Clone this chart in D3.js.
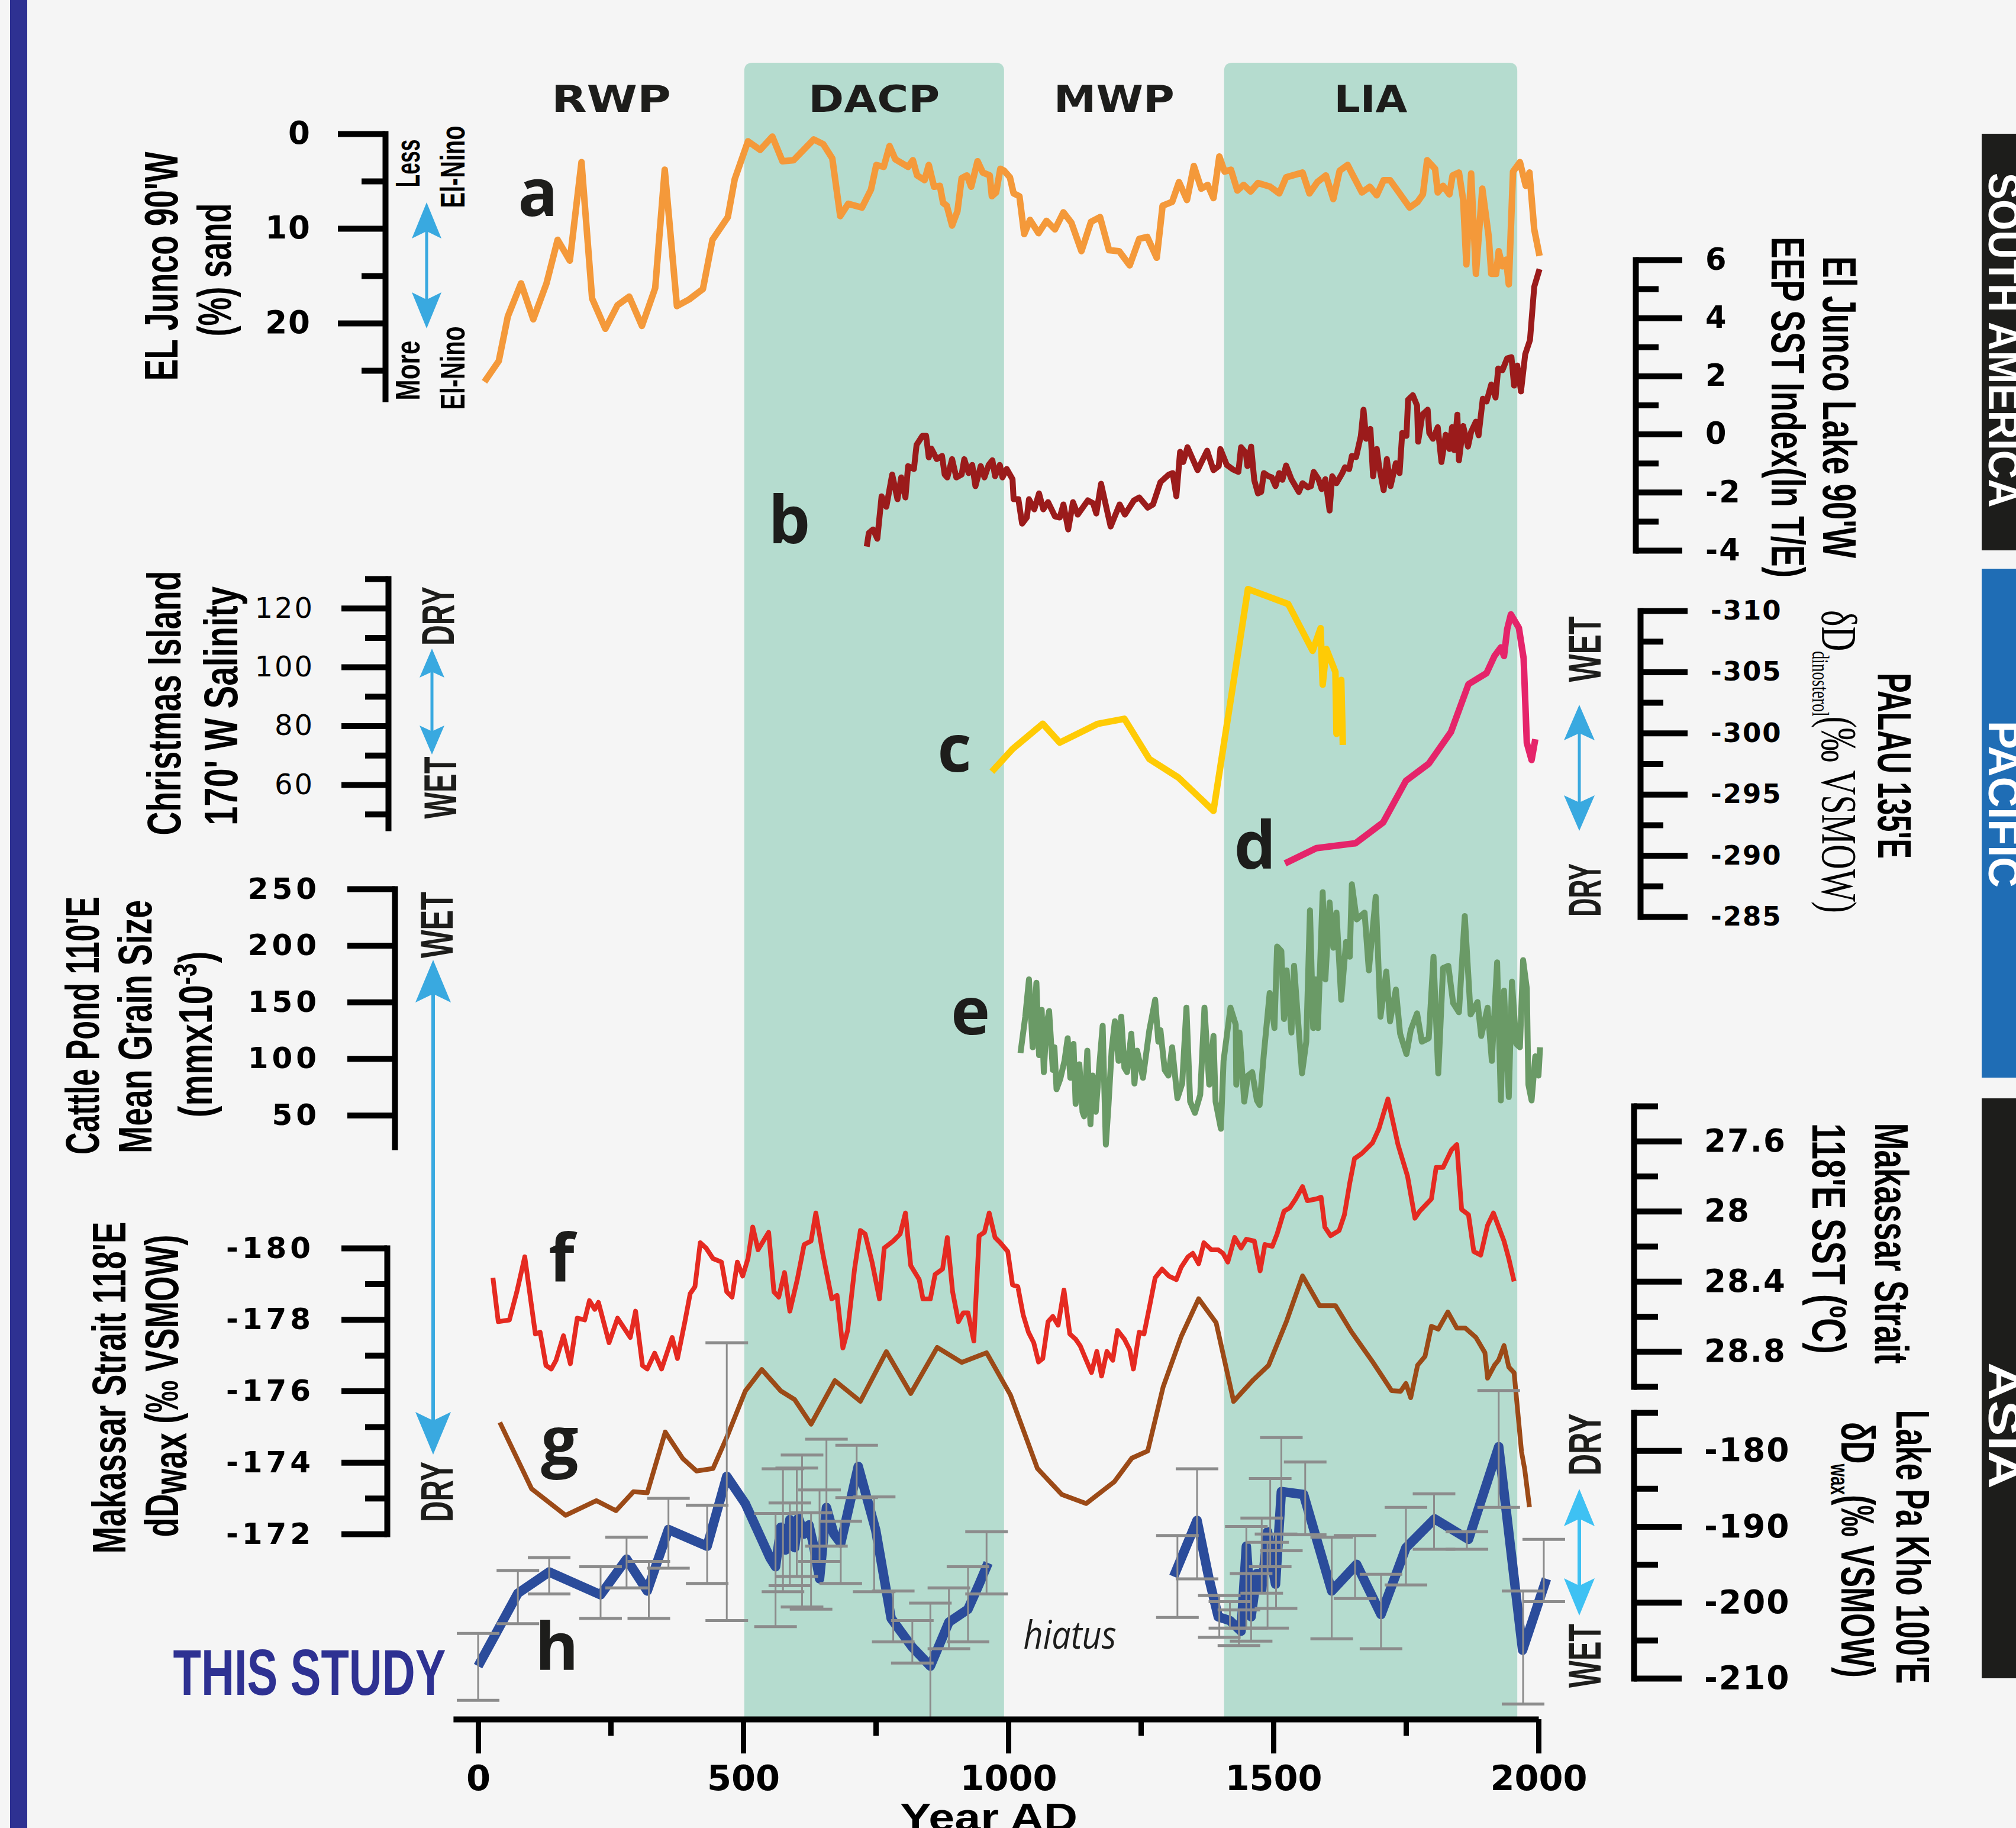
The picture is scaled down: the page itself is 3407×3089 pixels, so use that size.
<!DOCTYPE html>
<html>
<head>
<meta charset="utf-8">
<script src="https://cdn.jsdelivr.net/npm/d3@7"></script>
<style>
body { margin: 0; background: #f5f5f5; }
svg { display: block; }
</style>
</head>
<body>
<div id="chart"></div>
<script>
// ---- data (year AD, value) ----
const periods = [
  { name: 'RWP', start: 0, end: 502, shaded: false },
  { name: 'DACP', start: 502, end: 992, shaded: true },
  { name: 'MWP', start: 992, end: 1407, shaded: false },
  { name: 'LIA', start: 1407, end: 1960, shaded: true }
]
const xMajorTicks = [0, 500, 1000, 1500, 2000]
const xMinorTicks = [250, 750, 1250, 1750]

// a: El Junco (%) sand
const junco = [[12,26.2],[39,24.0],[56,19.3],[81,15.8],[104,19.6],[129,15.8],[150,11.2],[173,13.4],[195,3.0],[215,17.4],[240,20.6],[263,18.1],[285,17.2],[309,20.3],[334,16.3],[352,3.8],[375,18.2],[398,17.5],[424,16.4],[442,11.2],[471,8.8],[484,4.8],[509,0.8],[532,1.7],[555,0.3],[574,2.9],[595,2.8],[633,0.6],[651,1.1],[668,2.6],[683,8.7],[698,7.4],[724,7.8],[741,5.9],[751,3.3],[765,3.5],[776,1.3],[787,2.7],[811,3.5],[820,2.8],[828,4.4],[842,4.9],[850,3.3],[860,5.6],[871,5.5],[877,7.3],[884,7.6],[894,9.7],[904,8.2],[912,4.7],[922,4.4],[930,5.6],[942,2.9],[952,4.1],[965,4.4],[969,6.6],[977,6.2],[985,3.7],[992,3.9],[1003,4.6],[1010,6.3],[1021,6.6],[1030,10.6],[1041,9.1],[1057,10.5],[1072,9.2],[1088,10.1],[1104,8.3],[1119,9.4],[1138,12.4],[1156,9.3],[1173,8.8],[1190,12.3],[1209,12.4],[1229,13.9],[1247,11.1],[1262,10.9],[1280,13.1],[1291,7.6],[1309,7.2],[1322,5.1],[1337,7.0],[1350,3.4],[1364,5.8],[1376,5.4],[1387,6.8],[1398,2.4],[1408,4.0],[1420,3.8],[1432,6.0],[1444,5.4],[1457,6.1],[1471,5.2],[1494,5.6],[1511,6.3],[1524,4.6],[1555,4.1],[1568,6.3],[1583,5.1],[1599,4.4],[1613,6.9],[1625,3.9],[1640,3.3],[1652,4.6],[1667,6.2],[1682,5.6],[1695,6.5],[1708,4.9],[1720,4.9],[1738,6.3],[1757,7.8],[1772,7.2],[1782,6.4],[1790,2.8],[1805,3.7],[1810,6.2],[1820,5.5],[1832,6.4],[1838,4.4],[1850,4.1],[1858,7.0],[1864,13.8],[1873,4.2],[1882,14.8],[1894,5.8],[1906,10.8],[1911,14.8],[1920,14.8],[1925,12.4],[1932,14.0],[1939,13.3],[1944,15.9],[1952,4.0],[1965,3.0],[1976,5.5],[1983,4.1],[1992,10.1],[2002,12.9]]

// b: El Junco EEP SST index
const eepSst = [[733,-3.87],[737,-3.4],[745,-3.28],[753,-3.6],[761,-2.14],[770,-2.5],[781,-1.39],[791,-2.24],[798,-1.49],[806,-2.18],[811,-1.1],[822,-1.2],[827,-0.37],[838,-0.06],[845,-0.06],[850,-0.8],[855,-0.5],[865,-0.86],[875,-0.75],[880,-1.39],[885,-1.49],[894,-0.86],[902,-1.49],[912,-1.39],[917,-0.86],[925,-1.34],[932,-1.06],[938,-1.79],[948,-1.1],[955,-1.49],[963,-1.06],[970,-0.9],[975,-1.45],[984,-1.06],[989,-1.49],[997,-1.2],[1008,-1.55],[1010,-2.24],[1019,-2.24],[1026,-3.08],[1035,-2.87],[1039,-2.24],[1049,-2.59],[1058,-2.04],[1066,-2.59],[1075,-2.34],[1088,-2.83],[1097,-2.87],[1104,-2.42],[1113,-3.28],[1122,-2.34],[1131,-2.77],[1150,-2.28],[1160,-2.38],[1166,-2.73],[1175,-1.71],[1193,-3.18],[1210,-2.42],[1220,-2.77],[1237,-2.28],[1247,-2.18],[1263,-2.53],[1273,-2.42],[1287,-1.65],[1303,-1.39],[1310,-1.34],[1317,-2.14],[1324,-0.61],[1330,-0.96],[1338,-0.45],[1357,-1.24],[1375,-0.57],[1387,-1.24],[1397,-1.1],[1400,-0.51],[1412,-1.06],[1424,-1.22],[1434,-1.3],[1439,-0.45],[1448,-0.65],[1451,-1.1],[1458,-0.43],[1464,-1.59],[1471,-2.04],[1477,-1.99],[1482,-1.34],[1491,-1.45],[1497,-1.49],[1504,-1.79],[1511,-1.34],[1517,-1.57],[1524,-1.08],[1534,-1.55],[1548,-1.99],[1555,-1.69],[1565,-1.83],[1571,-1.79],[1576,-1.3],[1585,-1.55],[1591,-1.89],[1598,-1.55],[1606,-2.63],[1611,-1.45],[1619,-1.69],[1630,-1.34],[1635,-1.14],[1643,-1.2],[1648,-0.75],[1656,-0.79],[1665,-0.06],[1670,0.84],[1675,-0.16],[1683,0.18],[1688,-1.45],[1695,-0.51],[1699,-1.06],[1708,-1.93],[1714,-0.86],[1721,-1.79],[1731,-1.0],[1738,-1.34],[1743,0.04],[1751,-0.06],[1754,1.18],[1763,1.34],[1771,0.98],[1773,-0.26],[1781,0.67],[1791,0.84],[1794,0.04],[1801,-0.16],[1810,0.24],[1817,-0.96],[1825,-0.02],[1832,-0.51],[1837,0.24],[1841,-0.55],[1847,0.67],[1850,-0.9],[1858,0.28],[1867,-0.43],[1873,0.08],[1882,0.43],[1887,-0.04],[1895,1.22],[1902,1.12],[1911,1.71],[1919,1.26],[1924,2.26],[1932,2.2],[1941,2.61],[1949,2.65],[1954,1.67],[1960,2.36],[1967,1.47],[1975,2.75],[1984,3.24],[1992,5.07],[2002,5.68]]

// c: Christmas Island salinity
const christmas = [[969,64.4],[1008,72.1],[1065,80.7],[1097,74.3],[1169,80.7],[1219,82.4],[1266,68.7],[1321,62.4],[1387,51.1],[1452,126.5],[1528,121.4],[1574,105.5],[1589,113.2],[1593,94.0],[1600,106.1],[1617,98.3],[1619,77.3],[1628,95.6],[1631,73.5]]

// d: Palau dD dinosterol
const palau = [[1522,-289.35],[1581,-290.6],[1655,-291.0],[1707,-292.7],[1750,-296.1],[1793,-297.5],[1835,-300.1],[1868,-304.0],[1902,-304.9],[1917,-306.3],[1929,-307.0],[1935,-306.3],[1941,-308.5],[1948,-309.7],[1963,-308.6],[1972,-306.1],[1978,-299.2],[1987,-297.8],[1994,-299.5]]

// e: Cattle Pond mean grain size
const cattle = [[1023,105],[1032,137],[1039,170],[1046,110],[1053,167],[1058,103],[1063,143],[1067,88],[1072,130],[1077,142],[1084,90],[1087,110],[1091,73],[1098,82],[1106,98],[1112,118],[1117,83],[1123,113],[1127,60],[1134,95],[1140,53],[1143,49],[1149,107],[1155,42],[1159,85],[1165,53],[1171,90],[1178,129],[1184,24],[1189,59],[1195,108],[1201,133],[1208,98],[1213,137],[1219,92],[1224,88],[1232,122],[1238,78],[1243,107],[1254,83],[1266,125],[1277,152],[1283,115],[1287,125],[1295,90],[1302,85],[1309,110],[1319,65],[1328,78],[1336,145],[1343,62],[1352,52],[1362,68],[1370,145],[1379,77],[1387,120],[1391,62],[1401,38],[1406,98],[1419,145],[1429,130],[1430,77],[1436,123],[1445,62],[1452,85],[1460,88],[1469,63],[1474,59],[1482,104],[1493,158],[1502,127],[1507,199],[1515,195],[1520,135],[1525,178],[1534,123],[1539,182],[1545,143],[1554,87],[1562,115],[1569,231],[1575,127],[1580,170],[1584,127],[1593,247],[1598,170],[1606,238],[1613,198],[1619,229],[1628,152],[1637,203],[1644,190],[1648,254],[1657,223],[1672,229],[1680,178],[1693,243],[1702,137],[1713,177],[1720,133],[1731,161],[1739,122],[1751,104],[1759,125],[1771,140],[1780,115],[1793,118],[1802,190],[1811,87],[1820,180],[1830,182],[1839,149],[1850,141],[1861,226],[1872,139],[1885,150],[1892,120],[1904,145],[1912,98],[1922,185],[1929,63],[1935,160],[1944,66],[1950,168],[1958,113],[1965,110],[1971,187],[1978,162],[1981,77],[1987,63],[1994,102],[2000,85],[2003,110]]

// f: Makassar Strait SST
const makassarSst = [[28,28.38],[38,28.63],[59,28.62],[73,28.46],[88,28.26],[108,28.70],[117,28.69],[128,28.88],[138,28.90],[147,28.85],[161,28.71],[174,28.87],[187,28.61],[201,28.62],[210,28.51],[220,28.56],[227,28.52],[247,28.75],[263,28.61],[287,28.72],[297,28.57],[310,28.88],[319,28.90],[333,28.81],[346,28.90],[366,28.72],[376,28.84],[390,28.63],[400,28.47],[409,28.43],[419,28.18],[430,28.21],[443,28.27],[459,28.29],[469,28.46],[479,28.49],[489,28.29],[499,28.37],[509,28.27],[518,28.09],[528,28.22],[538,28.17],[548,28.12],[558,28.46],[567,28.49],[578,28.35],[588,28.57],[602,28.39],[615,28.19],[628,28.17],[637,28.01],[650,28.24],[667,28.50],[677,28.48],[688,28.78],[697,28.68],[710,28.33],[721,28.11],[730,28.13],[743,28.29],[757,28.50],[766,28.21],[783,28.17],[796,28.13],[806,28.01],[816,28.31],[832,28.39],[839,28.50],[853,28.50],[862,28.36],[876,28.33],[885,28.15],[895,28.46],[906,28.63],[915,28.58],[924,28.58],[935,28.74],[945,28.14],[955,28.12],[964,28.01],[975,28.15],[985,28.18],[999,28.23],[1008,28.42],[1018,28.43],[1028,28.59],[1038,28.69],[1048,28.75],[1057,28.86],[1065,28.84],[1075,28.63],[1084,28.60],[1094,28.65],[1105,28.45],[1116,28.70],[1127,28.73],[1136,28.77],[1147,28.85],[1157,28.92],[1167,28.80],[1176,28.94],[1186,28.80],[1197,28.85],[1206,28.68],[1219,28.73],[1229,28.79],[1236,28.90],[1247,28.69],[1256,28.70],[1266,28.55],[1277,28.38],[1290,28.33],[1303,28.37],[1317,28.39],[1326,28.32],[1339,28.26],[1348,28.24],[1359,28.30],[1369,28.18],[1383,28.22],[1396,28.22],[1405,28.24],[1414,28.29],[1427,28.15],[1439,28.21],[1449,28.16],[1464,28.17],[1475,28.34],[1484,28.19],[1498,28.20],[1507,28.13],[1520,28.00],[1531,27.98],[1542,27.93],[1555,27.86],[1564,27.94],[1581,27.93],[1590,27.92],[1597,28.09],[1608,28.14],[1624,28.11],[1634,28.02],[1644,27.84],[1653,27.70],[1667,27.67],[1687,27.61],[1699,27.53],[1716,27.36],[1735,27.62],[1740,27.67],[1753,27.80],[1767,28.04],[1776,28.00],[1798,27.93],[1807,27.75],[1820,27.75],[1836,27.65],[1846,27.62],[1855,27.99],[1868,28.02],[1878,28.23],[1891,28.25],[1904,28.08],[1915,28.01],[1935,28.17],[1944,28.27],[1954,28.40]]

// g: Makassar Strait dDwax
const makassarWax = [[41,-175.12],[101,-173.26],[165,-172.52],[223,-172.93],[260,-172.65],[293,-173.18],[319,-173.15],[353,-174.85],[386,-174.11],[412,-173.76],[443,-173.83],[469,-174.70],[504,-176.0],[535,-176.6],[571,-176.0],[597,-175.76],[628,-175.07],[673,-176.29],[721,-175.71],[770,-177.10],[816,-175.93],[866,-177.22],[912,-176.8],[959,-177.07],[1004,-175.89],[1055,-173.83],[1101,-173.10],[1147,-172.85],[1200,-173.46],[1233,-174.12],[1263,-174.32],[1292,-176.11],[1326,-177.52],[1359,-178.58],[1392,-177.91],[1425,-175.71],[1462,-176.31],[1491,-176.72],[1525,-177.96],[1555,-179.22],[1587,-178.39],[1617,-178.39],[1647,-177.66],[1687,-176.82],[1723,-176.01],[1740,-175.99],[1750,-176.21],[1759,-175.81],[1772,-176.72],[1786,-176.97],[1798,-177.81],[1811,-177.73],[1829,-178.21],[1846,-177.76],[1862,-177.76],[1882,-177.5],[1899,-177.07],[1904,-176.36],[1917,-176.72],[1925,-176.87],[1935,-177.27],[1944,-176.67],[1954,-176.51],[1968,-174.30],[1974,-173.81],[1983,-172.75]]

// h: Lake Pa Kho dDwax (this study), two segments around the hiatus
const pakhoEarly = [[0,-208.4],[75,-198.8],[134,-196.0],[231,-199.0],[280,-194.3],[319,-198.5],[359,-190.4],[432,-192.6],[469,-183.4],[504,-187.0],[551,-194.2],[561,-195.3],[571,-190.1],[580,-193.1],[588,-189.1],[597,-192.8],[604,-188.9],[615,-191.0],[624,-189.8],[633,-192.6],[644,-196.9],[657,-187.5],[671,-191.0],[684,-192.2],[717,-182.1],[750,-190.5],[779,-202.1],[819,-205.9],[853,-208.4],[888,-202.6],[924,-200.9],[945,-197.6],[962,-194.8]]
const pakhoLate = [[1312,-196.6],[1356,-189.2],[1378,-196.7],[1396,-201.9],[1418,-202.4],[1439,-203.8],[1449,-192.6],[1458,-201.9],[1469,-196.2],[1478,-198.3],[1489,-190.7],[1498,-195.3],[1504,-197.6],[1515,-185.4],[1557,-185.8],[1610,-198.5],[1657,-195.0],[1703,-201.6],[1750,-192.8],[1804,-189.0],[1868,-191.7],[1925,-179.5],[1970,-206.3],[2015,-196.9]]
// error bars: year, low, high
const pakhoErr = [[0,-212.9,-204.1],[75,-202.8,-195.8],[134,-198.9,-194.1],[231,-202.1,-195.3],[280,-198.1,-191.4],[322,-202.1,-194.6],[359,-195.5,-186.3],[432,-197.5,-187.2],[469,-202.4,-165.8],[561,-203.2,-188.3],[575,-198.6,-182.4],[588,-197.8,-186.9],[601,-196.6,-182.3],[611,-200.6,-180.6],[628,-200.9,-188.2],[644,-194.6,-185.2],[657,-192.6,-178.5],[684,-197.5,-189.3],[714,-186.2,-179.3],[747,-198.6,-186.1],[783,-205.2,-198.5],[819,-208.0,-202.4],[853,-215.5,-200.1],[888,-206.1,-198.1],[924,-205.2,-195.3],[959,-198.9,-190.7],[1319,-202.0,-191.2],[1356,-196.9,-182.4],[1398,-204.6,-199.1],[1418,-203.4,-199.9],[1435,-205.7,-201.0],[1449,-203.4,-190.0],[1458,-205.1,-196.2],[1478,-198.8,-188.9],[1489,-203.4,-192.1],[1494,-195.3,-183.7],[1505,-200.8,-191.0],[1515,-193.2,-178.3],[1560,-191.1,-181.5],[1610,-204.8,-191.4],[1654,-199.5,-191.2],[1703,-206.1,-196.3],[1750,-197.7,-187.5],[1803,-193.0,-185.7],[1865,-193.0,-190.7],[1925,-187.5,-172.1],[1971,-213.4,-198.5],[2010,-199.9,-191.7]]

// ---- layout ----
const W = 3407, H = 3089
const COND = "'Liberation Sans Narrow','Liberation Sans',Arial,sans-serif"
const WIDE = "'DejaVu Sans',Verdana,sans-serif"
const HUM = "'Open Sans','Noto Sans',sans-serif"
const SERIF = "'Liberation Serif','DejaVu Serif',serif"
const ARROW = '#39a9e0'

const svg = d3.select('#chart').append('svg').attr('width', W).attr('height', H)
svg.append('rect').attr('width', W).attr('height', H).attr('fill', '#f5f5f5')
svg.append('rect').attr('x', 17).attr('y', 0).attr('width', 29).attr('height', H).attr('fill', '#2e3192')

const x = d3.scaleLinear().domain([0, 2000]).range([808, 2600])
const yA = d3.scaleLinear().domain([0, 28]).range([226, 674])
const yB = d3.scaleLinear().domain([-4, 6]).range([930, 439])
const yC = d3.scaleLinear().domain([45.3, 130]).range([1399, 978])
const yD = d3.scaleLinear().domain([-310, -285]).range([1032, 1549])
const yE = d3.scaleLinear().domain([22, 250]).range([1938, 1502])
const yF = d3.scaleLinear().domain([27.4, 29.0]).range([1869, 2343])
const yG = d3.scaleLinear().domain([-180, -172]).range([2109, 2592])
const yH = d3.scaleLinear().domain([-175, -210]).range([2387, 2836])

// shaded periods with rounded tops
const bandTop = 106, bandBottom = 2905, r = 14
svg.append('g').selectAll('path').data(periods.filter(p => p.shaded)).join('path')
  .attr('fill', '#b5dccf')
  .attr('d', p => {
    const x0 = x(p.start), x1 = x(p.end)
    return `M${x0},${bandBottom}V${bandTop + r}Q${x0},${bandTop} ${x0 + r},${bandTop}H${x1 - r}Q${x1},${bandTop} ${x1},${bandTop + r}V${bandBottom}Z`
  })

// text helper: (x0,y0) is the baseline point, text centred there, stretched to len
function label(x0, y0, angle, len, parts, st) {
  const g = svg.append('g').attr('transform', `translate(${x0},${y0}) rotate(${angle})`)
  const t = g.append('text').attr('text-anchor', 'middle')
    .attr('font-family', st.family || COND)
    .attr('font-weight', st.weight || 'bold')
    .attr('font-style', st.style || 'normal')
    .attr('font-size', st.size)
    .attr('fill', st.fill || '#000')
  parts.forEach(p => {
    if (typeof p === 'string') p = { t: p }
    const s = t.append('tspan').text(p.t)
    if (p.size) s.attr('font-size', p.size)
    if (p.dy) s.attr('dy', p.dy)
  })
  if (len) {
    const L = t.node().getComputedTextLength()
    if (L > 0) t.attr('transform', `scale(${len / L},1)`)
  }
  return t
}

const periodLen = { RWP: 202, DACP: 222, MWP: 204, LIA: 124 }
periods.forEach(p => {
  label(x((p.start + p.end) / 2), 189, 0, periodLen[p.name], [p.name], { size: 62, family: WIDE, fill: '#1d1d1b' })
})

// ---- series ----
function series(data, y, color, width) {
  svg.append('path').datum(data)
    .attr('fill', 'none').attr('stroke', color).attr('stroke-width', width)
    .attr('stroke-linejoin', 'round')
    .attr('d', d3.line().x(d => x(d[0])).y(d => y(d[1])))
}
series(junco, yA, '#f4993a', 11)
series(eepSst, yB, '#9b1b1b', 10)
series(christmas, yC, '#ffcb05', 11)
series(palau, yD, '#e5246a', 11)
series(cattle, yE, '#6a9a66', 10)
series(makassarSst, yF, '#e52a21', 8)
series(makassarWax, yG, '#9c4a17', 8)
series(pakhoEarly, yH, '#2b4c9b', 16)
series(pakhoLate, yH, '#2b4c9b', 16)

const eb = svg.append('g').attr('stroke', '#8c8c8c')
eb.selectAll('line.v').data(pakhoErr).join('line').attr('class', 'v')
  .attr('x1', d => x(d[0])).attr('x2', d => x(d[0]))
  .attr('y1', d => yH(d[1])).attr('y2', d => yH(d[2])).attr('stroke-width', 3)
eb.selectAll('line.lo').data(pakhoErr).join('line').attr('class', 'lo')
  .attr('x1', d => x(d[0]) - 36).attr('x2', d => x(d[0]) + 36)
  .attr('y1', d => yH(d[1])).attr('y2', d => yH(d[1])).attr('stroke-width', 5)
eb.selectAll('line.hi').data(pakhoErr).join('line').attr('class', 'hi')
  .attr('x1', d => x(d[0]) - 36).attr('x2', d => x(d[0]) + 36)
  .attr('y1', d => yH(d[2])).attr('y2', d => yH(d[2])).attr('stroke-width', 5)

// ---- axes ----
function yAxis(scale, xPos, side, major, minor, majorLen, minorLen, pad, font) {
  const make = side === 'left' ? d3.axisLeft : d3.axisRight
  const g = svg.append('g').attr('transform', `translate(${xPos},0)`)
  if (minor.length) {
    g.append('g').call(make(scale).tickValues(minor).tickSize(minorLen).tickSizeOuter(0).tickFormat(''))
      .call(s => s.select('.domain').remove())
  }
  const gm = g.append('g').call(make(scale).tickValues(major).tickSize(majorLen).tickSizeOuter(0)
    .tickPadding(pad).tickFormat(d => String(d)))
  g.selectAll('.tick line').attr('stroke', '#000').attr('stroke-width', 10)
  gm.select('.domain').attr('stroke', '#000').attr('stroke-width', 10).attr('stroke-linecap', 'square')
  gm.selectAll('text').attr('font-family', font.family).attr('font-weight', font.weight)
    .attr('font-size', font.size).attr('fill', '#000').attr('letter-spacing', font.ls || 0)
}
const bold = s => ({ family: WIDE, weight: 'bold', size: s, ls: 2 })
yAxis(yA, 651, 'left', [0, 10, 20], [5, 15, 25], 80, 40, 45, bold(53))
yAxis(yB, 2764, 'right', [-4, -2, 0, 2, 4, 6], [-3, -1, 1, 3, 5], 79, 39, 39, bold(51))
yAxis(yC, 656, 'left', [60, 80, 100, 120], [50, 70, 90, 110, 130], 79, 39, 46, { family: WIDE, weight: 'normal', size: 48, ls: 3 })
yAxis(yD, 2772, 'right', [-310, -305, -300, -295, -290, -285], [-307.5, -302.5, -297.5, -292.5, -287.5], 80, 39, 39, bold(45))
yAxis(yE, 667, 'left', [50, 100, 150, 200, 250], [], 80, 0, 46, { family: WIDE, weight: 'bold', size: 50, ls: 6 })
yAxis(yF, 2761, 'right', [27.6, 28, 28.4, 28.8], [27.4, 27.8, 28.2, 28.6, 29.0], 81, 41, 38, bold(53))
yAxis(yG, 654, 'left', [-180, -178, -176, -174, -172], [-179, -177, -175, -173], 77, 37, 46, { family: WIDE, weight: 'bold', size: 50, ls: 6 })
yAxis(yH, 2761, 'right', [-180, -190, -200, -210], [-175, -185, -195, -205], 81, 41, 38, bold(55))

// x axis
const xAxisScale = x.copy().domain([-47, 2000]).range([x(-47), x(2000)])
const gx = svg.append('g').attr('transform', 'translate(0,2905)')
gx.append('g').call(d3.axisBottom(xAxisScale).tickValues(xMinorTicks).tickSize(28).tickSizeOuter(0).tickFormat(''))
  .call(s => s.select('.domain').remove())
const gxm = gx.append('g').call(d3.axisBottom(xAxisScale).tickValues(xMajorTicks).tickSize(58).tickSizeOuter(0).tickPadding(20).tickFormat(d => String(d)))
gx.selectAll('.tick line').attr('stroke', '#000').attr('stroke-width', 9)
gxm.select('.domain').attr('stroke', '#000').attr('stroke-width', 10)
gxm.selectAll('text').attr('font-family', WIDE).attr('font-weight', 'bold').attr('font-size', 59).attr('fill', '#000')
label(1671, 3093, 0, 300, ['Year AD'], { size: 64 })

// ---- arrows ----
function dblArrow(xc, y1, y2, hl, hw, color, lw) {
  const g = svg.append('g').attr('fill', color)
  g.append('line').attr('x1', xc).attr('x2', xc).attr('y1', y1 + hl * 0.7).attr('y2', y2 - hl * 0.7)
    .attr('stroke', color).attr('stroke-width', lw)
  g.append('path').attr('d', `M${xc},${y1}L${xc + hw},${y1 + hl}L${xc},${y1 + hl * 0.8}L${xc - hw},${y1 + hl}Z`)
  g.append('path').attr('d', `M${xc},${y2}L${xc + hw},${y2 - hl}L${xc},${y2 - hl * 0.8}L${xc - hw},${y2 - hl}Z`)
}
dblArrow(721, 342, 555, 61, 25, ARROW, 5)
dblArrow(730, 1096, 1275, 49, 21, ARROW, 5)
dblArrow(732, 1622, 2458, 72, 30, ARROW, 6)
dblArrow(2669, 1191, 1404, 60, 26, ARROW, 5)
dblArrow(2669, 2516, 2730, 63, 26, '#3ec1f3', 6)

// ---- axis titles ----
const T = 80
label(300, 450, -90, 387, ["EL Junco 90'W"], { size: T })
label(390, 456, -90, 225, ['(%) sand'], { size: T })
label(305, 1188, -90, 447, ['Christmas Island'], { size: T })
label(401, 1193, -90, 404, ["170' W  Salinity"], { size: T })
label(167, 1733, -90, 436, ["Cattle Pond 110'E"], { size: T })
label(256, 1735, -90, 428, ['Mean Grain Size'], { size: T })
label(358, 1748, -90, 281, ['(mmx10', { t: '-3', size: 56, dy: -26 }, { t: ')', dy: 26 }], { size: T })
label(212, 2345, -90, 561, ["Makassar Strait 118'E"], { size: T })
label(301, 2342, -90, 511, ['dD', { t: 'wax', dy: 14 }, { t: ' (‰ VSMOW)', dy: -14 }], { size: T })

label(3081, 688, 90, 510, ["El Junco Lake 90'W"], { size: T })
label(2994, 688, 90, 576, ['EEP SST Index(ln T/E)'], { size: T })
label(3174, 1294, 90, 314, ["PALAU 135'E"], { size: T })
label(3079, 1287, 90, 512, ['δD', { t: 'dinosterol', size: 40, dy: 16 }, { t: '(‰ VSMOW)', dy: -16 }], { size: 84, family: SERIF, weight: 'normal' })
label(3169, 2101, 90, 407, ['Makassar Strait'], { size: T })
label(3063, 2093, 90, 390, ["118'E SST (ºC)"], { size: T })
label(3205, 2614, 90, 463, ["Lake Pa Kho 100'E"], { size: T })
label(3112, 2619, 90, 432, ['δD', { t: 'wax', size: 42, dy: 18 }, { t: '(‰ VSMOW)', dy: -18 }], { size: T })

// El-Nino, wet/dry annotations
label(709, 276, -90, 81, ['Less'], { size: 58 })
label(785, 282, -90, 139, ['El-Nino'], { size: 58 })
label(709, 626, -90, 101, ['More'], { size: 58 })
label(785, 622, -90, 141, ['El-Nino'], { size: 58 })
const wd = { size: 78, fill: '#1d1d1b' }
label(767, 1041, -90, 100, ['DRY'], wd)
label(771, 1331, -90, 105, ['WET'], wd)
label(765, 1563, -90, 112, ['WET'], wd)
label(765, 2521, -90, 102, ['DRY'], wd)
label(2705, 1097, -90, 111, ['WET'], wd)
label(2705, 1504, -90, 90, ['DRY'], wd)
label(2705, 2441, -90, 105, ['DRY'], wd)
label(2705, 2798, -90, 108, ['WET'], wd)

// region tabs (label centre given separately, it is not the tab centre)
const regions = [
  { name: 'SOUTH AMERICA', y0: 226, y1: 930, fill: '#1d1d1b', len: 566, cy: 575 },
  { name: 'PACIFIC', y0: 961, y1: 1821, fill: '#1f6db5', len: 282, cy: 1359 },
  { name: 'ASIA', y0: 1856, y1: 2836, fill: '#1d1d1b', len: 214, cy: 2409 }
]
regions.forEach(rg => {
  svg.append('rect').attr('x', 3349).attr('y', rg.y0).attr('width', 60).attr('height', rg.y1 - rg.y0).attr('fill', rg.fill)
  label(3361, rg.cy, 90, rg.len, [rg.name], { size: 74, fill: '#fff' })
})

// panel letters
const letters = [['a', 909, 365], ['b', 1334, 918], ['c', 1613, 1304], ['d', 2121, 1468], ['e', 1640, 1748], ['f', 949, 2165], ['g', 946, 2474], ['h', 941, 2822]]
svg.append('g').selectAll('text').data(letters).join('text')
  .attr('x', d => d[1]).attr('y', d => d[2]).attr('text-anchor', 'middle')
  .attr('font-family', HUM).attr('font-weight', 'bold').attr('font-size', 112).attr('fill', '#1d1d1b')
  .text(d => d[0])

label(523, 2864, 0, 461, ['THIS STUDY'], { size: 109, fill: '#2e3192' })
label(1808, 2786, 0, 157, ['hiatus'], { size: 66, family: HUM, weight: 'normal', style: 'italic', fill: '#1d1d1b' })
</script>
</body>
</html>
